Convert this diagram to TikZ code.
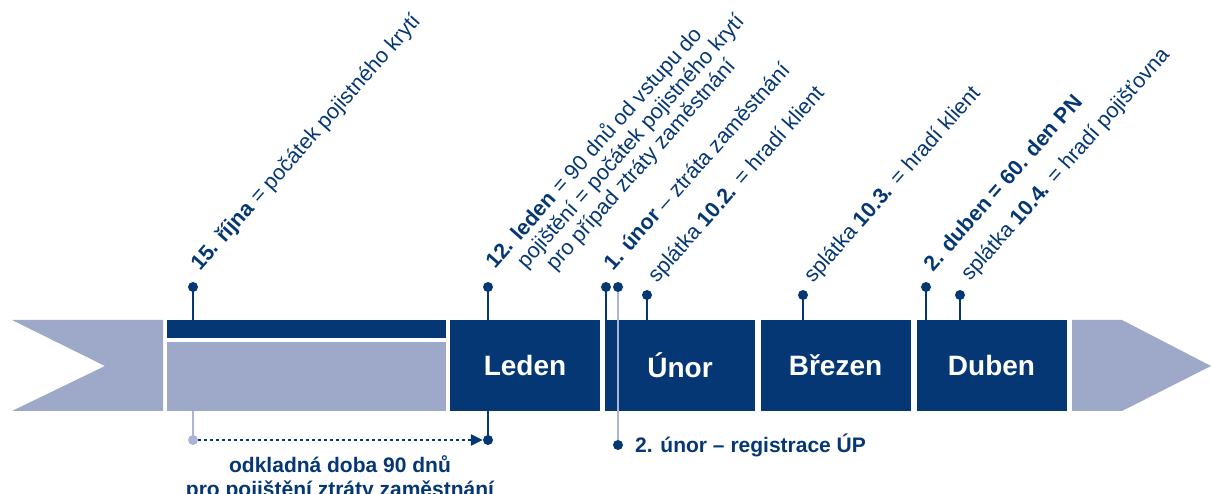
\documentclass[tikz,border=0pt]{standalone}
\usepackage{fontspec}
\setmainfont{Liberation Sans}
\usetikzlibrary{arrows.meta,positioning}
\definecolor{navy}{RGB}{4,55,115}
\definecolor{lav}{RGB}{158,168,201}
\definecolor{lavlight}{RGB}{170,180,212}
\begin{document}
\begin{tikzpicture}[x=1pt, y=-1pt,
    month/.style = {fill=navy, text=white, minimum width=150pt, minimum height=91pt, inner sep=0pt, font=\fontsize{28}{30}\selectfont\bfseries},
    block/.style = {minimum width=279pt, inner sep=0pt},
    pin/.style = {circle, fill=navy, minimum size=10pt, inner sep=0pt},
    lpin/.style = {pin, fill=lavlight},
    stem/.style = {navy, line width=2pt},
    lstem/.style = {lavlight, line width=2pt},
    lbl/.style = {rotate=48.5, anchor=base west, inner sep=0pt, text=navy, font=\fontsize{21.5}{22}\selectfont},
    note/.style = {inner sep=0pt, text=navy, font=\fontsize{21}{24}\selectfont\bfseries}]
    \useasboundingbox (0,0) rectangle (1211,494);
    \fill[lav] (12,320) -- (163,320) -- (163,411) -- (12,411) -- (105,366) -- cycle;
    \fill[lav] (1072,320) -- (1122,320) -- (1211,366) -- (1122,411) -- (1072,411) -- cycle;
    \node[block, fill=navy, minimum height=18pt] (bar) at (306.5,329) {};
    \node[block, fill=lav, minimum height=69pt] (odklad) at (306.5,376.5) {};
    \node[month] (leden) at (525,365.5) {Leden};
    \node[month] (unor) at (680,365.5) {Únor};
    \node[month] (brezen) at (835.5,365.5) {Březen};
    \node[month] (duben) at (991.5,365.5) {Duben};
    \node[pin] (rijen) at (193,287) {};
    \node[pin] (p12) at (488,287) {};
    \node[pin] (p1u) at (606,287) {};
    \node[pin] (p2u) at (618,287) {};
    \node[pin] (s102) at (647,295) {};
    \node[pin] (s103) at (803,295) {};
    \node[pin] (p2d) at (926,287) {};
    \node[pin] (s104) at (960,295) {};
    \foreach \p/\b in {rijen/bar, p12/leden, p1u/unor, s102/unor, s103/brezen, p2d/duben, s104/duben}
        \draw[stem] (\p.center) -- (\p.center |- \b.north);
    \node[pin] (reg) at (618,445) {};
    \draw[lstem] (p2u.south) -- (reg.north);
    \node[lpin] (zac) at (193,440) {};
    \node[pin] (kon) at (488,440) {};
    \draw[lstem] (zac.center |- odklad.south) -- (zac.center);
    \draw[stem] (kon.center |- leden.south) -- (kon.center);
    \draw[navy, line width=2.5pt, dash pattern=on 2.5pt off 3.5pt, -{Triangle[length=12pt, width=11pt]}] (zac.east) -- (kon.west);
    \node[lbl] (t1) at (200,272) {\textbf{15. října} = počátek pojistného krytí};
    \node[lbl] (t2a) at (495,270) {\textbf{12. leden} = 90 dnů od vstupu do};
    \node[lbl] (t2b) at (526,270) {pojištění = počátek pojistného krytí};
    \node[lbl] (t2c) at (555,272) {pro případ ztráty zaměstnání};
    \node[lbl] (t3) at (613,272) {\textbf{1. únor} – ztráta zaměstnání};
    \node[lbl] (t4) at (657,284) {splátka \textbf{10.2.} = hradí klient};
    \node[lbl] (t5) at (813,284) {splátka \textbf{10.3.} = hradí klient};
    \node[lbl] (t6) at (933,273) {\textbf{2. duben = 60. den PN}};
    \node[lbl] (t7) at (970,282) {splátka \textbf{10.4.} = hradí pojišťovna};
    \node[note, anchor=base west] (regtext) at (635,452) {2. únor – registrace ÚP};
    \node[note, align=center, anchor=north] (odktext) at (340,455) {odkladná doba 90 dnů\\pro pojištění ztráty zaměstnání};
\end{tikzpicture}
\end{document}
